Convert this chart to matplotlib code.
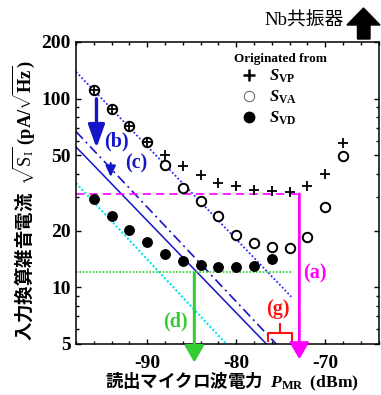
import matplotlib
matplotlib.use("Agg")
import matplotlib.pyplot as plt
from matplotlib.lines import Line2D
from matplotlib.patches import Polygon
import numpy as np

plt.rcParams['font.family'] = ['Liberation Serif', 'DejaVu Sans']
plt.rcParams['mathtext.fontset'] = 'custom'
plt.rcParams['mathtext.rm'] = 'Liberation Serif'
plt.rcParams['mathtext.it'] = 'Liberation Serif:italic'
plt.rcParams['mathtext.bf'] = 'Liberation Serif:bold'
plt.rcParams['mathtext.bfit'] = 'Liberation Serif:italic:bold'

# ---------------- data ----------------
pmr_vp = [-96, -94, -92, -90, -88, -86, -84, -82, -80, -78, -76, -74, -72, -70, -68]
s_vp = [111, 88.4, 71.3, 58.6, 50.5, 44.2, 39.6, 35.7, 34.3, 33.0, 32.6, 32.0, 34.3, 39.9, 58.2]

pmr_va = [-96, -94, -92, -90, -88, -86, -84, -82, -80, -78, -76, -74, -72, -70, -68]
s_va = [111, 88.4, 71.3, 58.6, 44.7, 33.6, 28.6, 23.8, 19.0, 17.1, 16.4, 16.1, 18.5, 26.7, 49.9]

pmr_vd = [-96, -94, -92, -90, -88, -86, -84, -82, -80, -78, -76]
s_vd = [29.5, 23.8, 20.2, 17.3, 15.1, 13.8, 13.2, 12.8, 12.8, 12.9, 14.2]

# guide lines (slope -1/2 in log power)
line_dot_x = [-98, -73.8]
line_dot_y = [139, 8.9]
line_dashdot_x = [-98, -75.5]
line_dashdot_y = [67, 5.0]
line_solid_x = [-98, -76.6]
line_solid_y = [55.5, 5.0]
line_cyan_x = [-98, -81.1]
line_cyan_y = [35.7, 5.0]
mag_level = 31.3
mag_x = [-98, -72.9]
green_level = 12.0
green_x = [-98, -73.6]

x_ticks = [-90, -80, -70]
y_ticks = [5, 10, 20, 50, 100, 200]
y_ticklabels = ['5', '10', '20', '50', '100', '200']

# ---------------- figure ----------------
W, H = 381, 395
fig = plt.figure(figsize=(W / 100, H / 100), dpi=100)
ax = fig.add_axes([76 / W, 51 / H, (378.5 - 76) / W, (344 - 42) / H])
ax.set_xscale('linear')
ax.set_yscale('log')
ax.set_xlim(-98, -64)
ax.set_ylim(5, 200)

blue = '#1515c8'
blue_dot = '#2a2aff'
cyan = '#00e5ee'
magenta = '#ff00ff'
green = '#33cc33'
red = '#ff1010'

ax.plot(line_dot_x, line_dot_y, ls=(0, (1, 1.2)), color=blue_dot, lw=1.3)
ax.plot(line_dashdot_x, line_dashdot_y, ls=(0, (6, 2.5, 1.2, 2.5)), color=blue, lw=1.2)
ax.plot(line_solid_x, line_solid_y, ls='-', color=blue, lw=1.1)
ax.plot(line_cyan_x, line_cyan_y, ls=(0, (1, 1)), color=cyan, lw=1.5)
ax.plot(mag_x, [mag_level, mag_level], ls=(0, (5, 3)), color=magenta, lw=1.2)
ax.plot(green_x, [green_level, green_level], ls=(0, (1, 1)), color=green, lw=1.2)

ax.plot(pmr_va, s_va, 'o', mfc='white', mec='black', ms=6.8, mew=1.4, zorder=4)
ax.plot(pmr_vp, s_vp, '+', color='black', ms=7.8, mew=1.3, zorder=5)
ax.plot(pmr_vd, s_vd, 'o', mfc='black', mec='black', ms=6.8, zorder=4)

# arrows
def arrow(x, y0, y1, color, lw, hl, hw, ms=10):
    ax.annotate('', xy=(x, y1), xytext=(x, y0),
                arrowprops=dict(arrowstyle=f'-|>,head_length={hl},head_width={hw}',
                                color=color, lw=lw, mutation_scale=ms,
                                shrinkA=0, shrinkB=0),
                annotation_clip=False, zorder=6)

arrow(-72.9, mag_level, 4.15, magenta, 2.0, 1.0, 0.58)
arrow(-84.7, 11.9, 3.99, green, 2.2, 1.0, 0.58)
arrow(-95.7, 100, 54.8, blue, 2.4, 1.4, 0.5)
arrow(-94.1, 45.6, 38.5, blue, 1.5, 0.65, 0.3)

# bracket (g)
ax.plot([-76.4, -76.4, -73.7, -73.7], [5.19, 5.7, 5.7, 5.19], color=red, lw=1.5,
        clip_on=False)
ax.plot([-75.05, -75.05], [5.7, 6.37], color=red, lw=1.5)

tkw = dict(fontsize=14.5, fontweight='bold', ha='center', va='center')
ax.text(-93.4, 59.4, '(b)', color=blue, **tkw)
ax.text(-91.2, 45.6, '(c)', color=blue, **tkw)
ax.text(-71.2, 11.9, '(a)', color=magenta, **tkw)
ax.text(-86.8, 6.62, '(d)', color=green, **tkw)
ax.text(-75.35, 7.7, '(g)', color=red, **tkw)

# ticks
ax.set_xticks(x_ticks)
ax.set_xticklabels([str(v) for v in x_ticks])
ax.set_xticks(np.arange(-98, -63, 2), minor=True)
ax.set_yticks(y_ticks)
ax.set_yticklabels(y_ticklabels)
ax.yaxis.set_minor_locator(matplotlib.ticker.LogLocator(base=10, subs=np.arange(2, 10)))
ax.yaxis.set_minor_formatter(matplotlib.ticker.NullFormatter())
ax.tick_params(which='both', direction='in', top=True, right=True, width=1.0)
ax.tick_params(which='major', length=3.5)
ax.tick_params(which='minor', length=2.2)
ax.tick_params(axis='x', which='major', pad=8)
ax.tick_params(axis='y', which='major', pad=4)
for lab in ax.get_xticklabels() + ax.get_yticklabels():
    lab.set_fontsize(14)
    lab.set_fontweight('bold')
for sp in ax.spines.values():
    sp.set_linewidth(1.1)

# legend
handles = [
    Line2D([], [], ls='none', marker='+', color='black', ms=9, mew=1.8),
    Line2D([], [], ls='none', marker='o', mfc='white', mec='#444444', ms=7.5, mew=0.6),
    Line2D([], [], ls='none', marker='o', mfc='black', mec='black', ms=7.5),
]
labels = [r'$\mathbfit{S}_{\mathbf{VP}}$', r'$\mathbfit{S}_{\mathbf{VA}}$',
          r'$\mathbfit{S}_{\mathbf{VD}}$']
leg = ax.legend(handles, labels, title='Originated from', loc='upper left',
                bbox_to_anchor=(146 / 302.5, 1 + 1 / 302), frameon=False,
                fontsize=12, handlelength=1.8, handletextpad=0.3,
                labelspacing=0.2, borderpad=0.2, alignment='left',
                title_fontproperties={'weight': 'bold', 'size': 9.5,
                                      'family': 'Liberation Serif'})

# axis labels
fig.text(232 / W, 1 - 382 / H,
         '読出マイクロ波電力  $\\mathbfit{P}_{\\mathbf{MR}}$  $\\mathbf{(dBm)}$',
         family=['Noto Sans CJK JP', 'DejaVu Sans'], fontweight='bold', fontsize=12.6,
         ha='center', va='center')
fig.text(24 / W, 1 - 201 / H,
         '入力換算雑音電流  $\\sqrt{\\mathrm{S}_{\\mathrm{I}}}$ $\\mathbf{(pA/}\\sqrt{\\mathbf{Hz}}\\mathbf{)}$',
         family=['Noto Sans CJK JP', 'DejaVu Sans'], fontweight='bold', fontsize=13.3,
         ha='center', va='center', rotation=90)

# top annotation
fig.text(304 / W, 1 - 21 / H, 'Nb共振器', family=['Liberation Serif', 'Noto Sans CJK JP'],
         fontsize=13.5, ha='center', va='center')
pts_px = [(363.5, 8), (347, 25), (357.5, 25), (357.5, 39), (370, 39), (370, 25), (380, 25)]
fig.patches.append(Polygon([(px / W, 1 - py / H) for px, py in pts_px], closed=True,
                           transform=fig.transFigure, facecolor='black', edgecolor='black'))

fig.savefig('out.png', dpi=100)
